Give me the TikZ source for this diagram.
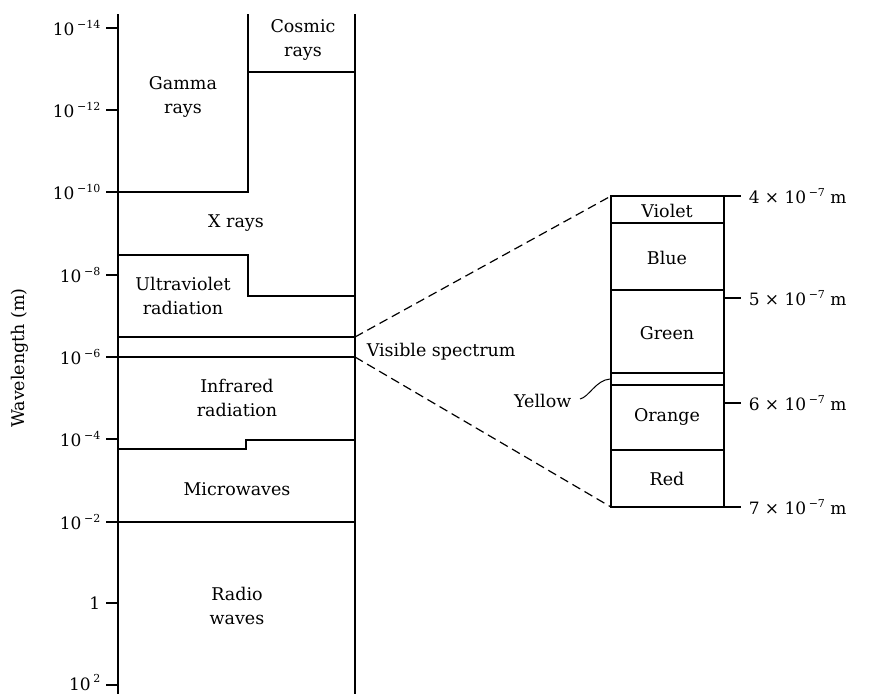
\documentclass[tikz,border=0pt]{standalone}
\usepackage{fontspec}
\setmainfont{DejaVu Serif}
\newcommand{\pw}[2]{#1\hspace{2.5pt}\raisebox{0.45em}{\fontsize{11}{11}\selectfont #2}}
\begin{document}
\begin{tikzpicture}[x=1pt,y=-1pt,line width=1.5pt,line join=miter,
  lab/.style={font=\fontsize{17.5}{23.5}\selectfont,align=center,inner sep=0pt},
  ticklab/.style={font=\fontsize{17}{20}\selectfont,anchor=east,inner sep=0pt,text depth=0pt},
  rlab/.style={font=\fontsize{17}{20}\selectfont,anchor=west,inner sep=0pt},
  axis/.style={line width=2pt},
  dashline/.style={dash pattern=on 9pt off 5pt,line width=1.2pt}]
\useasboundingbox (0,0) rectangle (896,694);
% main column
\draw[axis] (118,14) -- (118,694);
\draw[axis] (355,14) -- (355,694);
% ticks
\foreach \y/\t in {28/{\pw{10}{−14}},110/{\pw{10}{−12}},192/{\pw{10}{−10}},275/{\pw{10}{−8}},357/{\pw{10}{−6}},439/{\pw{10}{−4}},522/{\pw{10}{−2}},603/{1}}{
  \draw (106,\y) -- (118,\y);
  \node[ticklab] at (101,\y) {\t};
}
\draw (106,685) -- (118,685);
\node[ticklab,anchor=south east] (t2) at (101,691) {\pw{10}{2}};
% band boundaries
\draw (248,14) -- (248,192) -- (118,192);
\draw (248,72) -- (355,72);
\draw (118,255) -- (248,255) -- (248,296) -- (355,296);
\draw (118,337) -- (355,337);
\draw (118,357) -- (355,357);
\draw (118,449) -- (246,449) -- (246,440) -- (355,440);
\draw (118,522) -- (355,522);
% labels
\node[lab] (cosmic) at (303,40) {Cosmic\\rays};
\node[lab] (gamma) at (183,97) {Gamma\\rays};
\node[lab] (xrays) at (236,223) {X rays};
\node[lab] (uv) at (183,296) {Ultraviolet\\radiation};
\node[lab,anchor=west] (vis) at (366,352) {Visible spectrum};
\node[lab] (ir) at (237,398) {Infrared\\radiation};
\node[lab] (micro) at (237,489) {Microwaves};
\node[lab] (radio) at (237,606) {Radio\\waves};
\node[lab,rotate=90] (wl) at (20,358) {Wavelength (m)};
% visible box
\coordinate (vtop) at (355,337);
\coordinate (vbot) at (355,357);
\coordinate (btl) at (611,196);
\coordinate (bbl) at (611,507);
\draw[axis] (611,196) rectangle (724,507);
\draw (611,196) -- (741,196);
\draw (611,507) -- (741,507);
\draw (611,223) -- (724,223);
\draw (611,290) -- (724,290);
\draw (611,373) -- (724,373);
\draw (611,385) -- (724,385);
\draw (611,450) -- (724,450);
\draw (724,298) -- (741,298);
\draw (724,403) -- (741,403);
\draw[dashline] (vtop) -- (btl);
\draw[dashline] (vbot) -- (bbl);
\node[lab] (violet) at (667,211) {Violet};
\node[lab] (blue) at (667,258) {Blue};
\node[lab] (green) at (667,333) {Green};
\node[lab] (orange) at (667,417) {Orange};
\node[lab] (red) at (667,479) {Red};
\node[lab,anchor=east] (yellow) at (572,401) {Yellow};
\coordinate (ypt) at (610,379);
\draw[line width=1pt] (yellow.east) ++(8,-2) .. controls (589,397) and (596,380) .. (ypt);
\node[rlab] (l4) at (748,196) {4 × \pw{10}{−7} m};
\node[rlab] (l5) at (748,298) {5 × \pw{10}{−7} m};
\node[rlab] (l6) at (748,403) {6 × \pw{10}{−7} m};
\node[rlab] (l7) at (748,507) {7 × \pw{10}{−7} m};
\end{tikzpicture}
\end{document}
